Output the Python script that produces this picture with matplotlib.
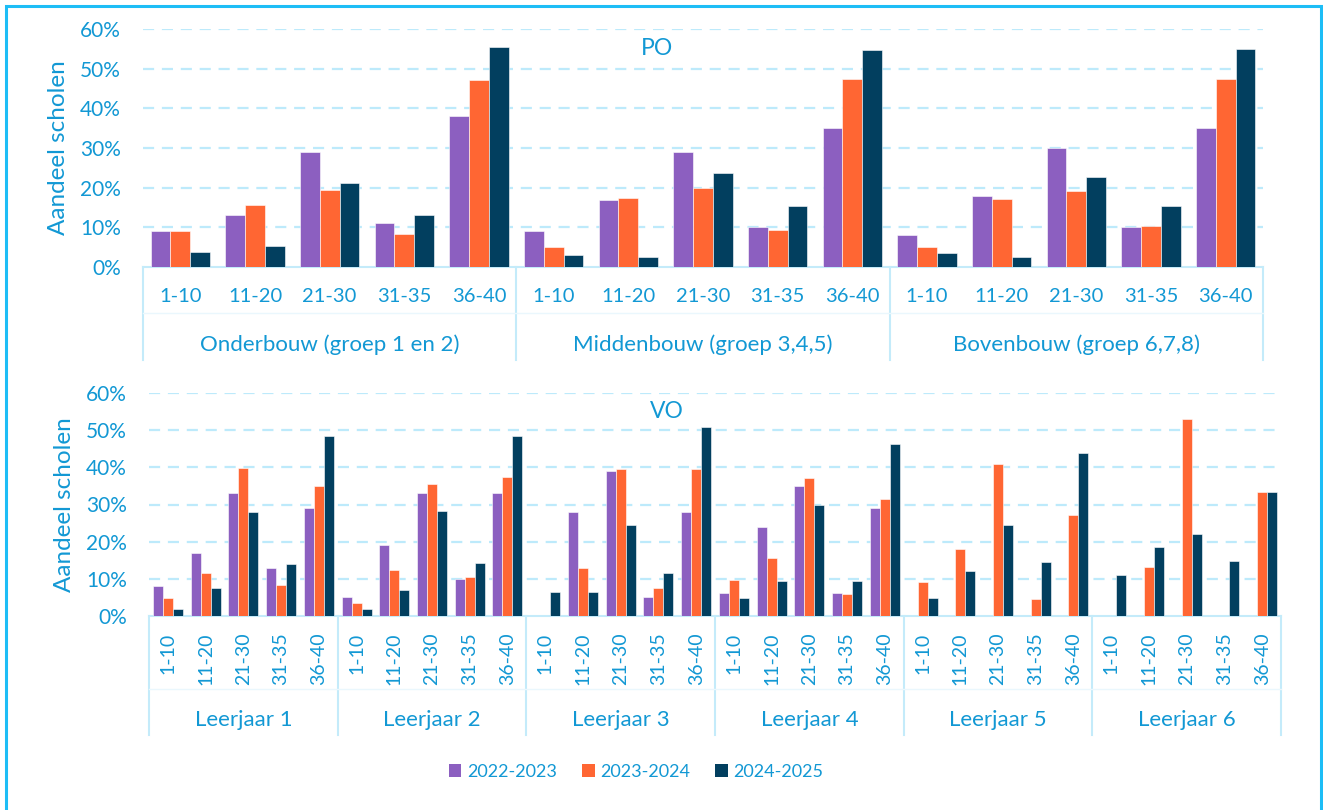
import matplotlib.pyplot as plt
from matplotlib.patches import Rectangle, Patch
from matplotlib.lines import Line2D
import numpy as np

plt.rcParams['font.family'] = ['Lato', 'DejaVu Sans']

# Data (share of schools, %)
categories = ['1-10', '11-20', '21-30', '31-35', '36-40']
series = ['2022-2023', '2023-2024', '2024-2025']

po_groups = ['Onderbouw (groep 1 en 2)', 'Middenbouw (groep 3,4,5)', 'Bovenbouw (groep 6,7,8)']
po_2223 = [9, 13, 29, 11, 38, 9, 17, 29, 10, 35, 8, 18, 30, 10, 35]
po_2324 = [9.0, 15.7, 19.4, 8.2, 47.1, 5.0, 17.4, 19.9, 9.4, 47.3, 5.0, 17.1, 19.2, 10.4, 47.3]
po_2425 = [3.8, 5.4, 21.3, 13.1, 55.4, 3.1, 2.4, 23.6, 15.3, 54.7, 3.6, 2.6, 22.8, 15.3, 54.9]

vo_groups = ['Leerjaar 1', 'Leerjaar 2', 'Leerjaar 3', 'Leerjaar 4', 'Leerjaar 5', 'Leerjaar 6']
vo_2223 = [8, 17, 33, 13, 29, 5, 19, 33, 10, 33, 0, 28, 39, 5, 28,
           6, 24, 35, 6, 29, 0, 0, 0, 0, 0, 0, 0, 0, 0, 0]
vo_2324 = [4.9, 11.5, 39.9, 8.2, 35.0, 3.4, 12.4, 35.6, 10.5, 37.4, 0, 13.0, 39.6, 7.4, 39.6,
           9.6, 15.6, 37.2, 5.8, 31.4, 9.1, 18.1, 40.8, 4.4, 27.2, 0, 13.1, 53.2, 0, 33.3]
vo_2425 = [1.7, 7.4, 28.0, 13.9, 48.5, 1.9, 6.9, 28.2, 14.1, 48.4, 6.3, 6.3, 24.4, 11.5, 51.0,
           4.7, 9.4, 29.8, 9.4, 46.3, 4.8, 12.1, 24.4, 14.5, 43.9, 11.1, 18.4, 22.1, 14.7, 33.3]

colors = ['#8C5FC0', '#FF6633', '#023F5F']
txt = '#1298D4'
grid_c = '#BDEAFB'
line_c = '#C4EBFA'

W, H = 1323, 810
fig = plt.figure(figsize=(W / 100, H / 100), dpi=100)

# outer frame
fig.patches.append(Rectangle((6 / W, -0.05), (1321 - 6) / W, (H - 6) / H + 0.05,
                             transform=fig.transFigure, fill=False,
                             edgecolor='#1DBDF6', linewidth=2.2))


def px_axes(left, top, right, bottom):
    return fig.add_axes([left / W, 1 - bottom / H, (right - left) / W, (bottom - top) / H])


def panel(ax, groups, vals, rotate, title, title_xy, ax_h,
          tick_off, grp_off, sep_off, hline_off):
    n = len(groups) * len(categories)
    x = np.arange(n)
    w = 0.265
    for i, v in enumerate(vals):
        ax.bar(x + (i - 1) * w, v, w, color=colors[i], edgecolor='white',
               linewidth=0.4, zorder=3)
    ax.set_xlim(-0.5, n - 0.5)
    ax.set_ylim(0, 60)
    ax.set_yticks(range(0, 61, 10))
    ax.set_yticklabels([f'{t}%' for t in range(0, 61, 10)])
    ax.tick_params(axis='y', length=0, pad=16, labelsize=15, labelcolor=txt)
    ax.set_xticks([])
    for s in ['top', 'right', 'left']:
        ax.spines[s].set_visible(False)
    ax.spines['bottom'].set_color(line_c)
    ax.spines['bottom'].set_linewidth(1.5)
    for gy in range(10, 61, 10):
        ax.axhline(gy, color=grid_c, linewidth=1.6, linestyle=(0, (5, 3.5)), zorder=1)

    tr = ax.get_xaxis_transform()
    for j in range(n):
        if rotate:
            ax.annotate(categories[j % 5], xy=(j, 0), xycoords=tr,
                        xytext=(0, -tick_off), textcoords='offset pixels',
                        rotation=90, ha='center', va='top', fontsize=14, color=txt)
        else:
            ax.annotate(categories[j % 5], xy=(j, 0), xycoords=tr,
                        xytext=(0, -tick_off), textcoords='offset pixels',
                        ha='center', va='center', fontsize=14.5, color=txt)
    for g, name in enumerate(groups):
        ax.annotate(name, xy=(g * 5 + 2, 0), xycoords=tr,
                    xytext=(0, -grp_off), textcoords='offset pixels',
                    ha='center', va='center', fontsize=16, color=txt)
    for b in np.arange(-0.5, n, 5):
        ax.add_line(Line2D([b, b], [0, -sep_off / ax_h], transform=tr,
                           color=line_c, linewidth=1.5, clip_on=False))
    ax.add_line(Line2D([-0.5, n - 0.5], [-hline_off / ax_h] * 2, transform=tr,
                       color='#EAF7FD', linewidth=1, clip_on=False))
    ax.text(title_xy[0], title_xy[1], title, transform=ax.transAxes,
            ha='center', va='center', fontsize=16.5, color=txt)
    ax.set_ylabel('Aandeel scholen', fontsize=17.5, color=txt, labelpad=8)


ax1 = px_axes(143, 29, 1263, 267)
panel(ax1, po_groups, [po_2223, po_2324, po_2425], False, 'PO', (0.459, 0.92),
      238, 30, 78, 93, 46)

ax2 = px_axes(149, 393.3, 1281, 615.7)
panel(ax2, vo_groups, [vo_2223, vo_2324, vo_2425], True, 'VO', (0.4576, 0.916),
      222.4, 17, 104, 119, 73)

handles = [Patch(facecolor=c, edgecolor='none') for c in colors]
fig.legend(handles, series, loc='center', bbox_to_anchor=(636 / W, 1 - 772 / H),
           ncol=3, frameon=False, fontsize=13, labelcolor=txt,
           handlelength=0.7, handleheight=0.7, handletextpad=0.3, columnspacing=1.4)

fig.savefig('out.png', dpi=100)
